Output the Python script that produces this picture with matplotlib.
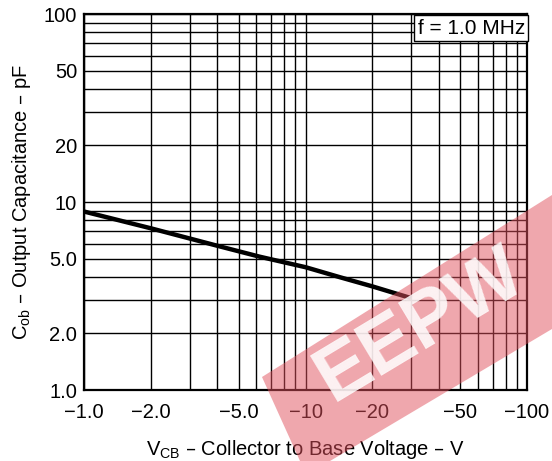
import matplotlib
matplotlib.use('Agg')
import matplotlib.pyplot as plt
from matplotlib.patches import Polygon
from matplotlib.ticker import FixedLocator, FixedFormatter, LogLocator, NullFormatter

plt.rcParams['font.family'] = ['Liberation Sans', 'DejaVu Sans']

# curve (|VCB| in volts, Cob in pF)
vcb = [1.0, 2.0, 4.0, 6.2, 10.0, 14.3, 20.0, 30.0]
cob = [8.9, 7.25, 5.85, 5.12, 4.5, 3.98, 3.56, 3.08]

x_ticks = [1, 2, 5, 10, 20, 50, 100]
x_labels = ['\u22121.0', '\u22122.0', '\u22125.0', '\u221210', '\u221220', '\u221250', '\u2212100']
y_ticks = [1, 2, 5, 10, 20, 50, 100]
y_labels = ['1.0', '2.0', '5.0', '10', '20', '50', '100']

W, H = 552, 461
fig = plt.figure(figsize=(W / 100, H / 100), dpi=100)
ax = fig.add_axes([84 / W, 1 - 390 / H, 443 / W, 376 / H])

ax.set_xscale('log')
ax.set_yscale('log')
ax.set_xlim(1, 100)
ax.set_ylim(1, 100)

ax.xaxis.set_major_locator(FixedLocator(x_ticks))
ax.xaxis.set_major_formatter(FixedFormatter(x_labels))
ax.yaxis.set_major_locator(FixedLocator(y_ticks))
ax.yaxis.set_major_formatter(FixedFormatter(y_labels))
ax.xaxis.set_minor_locator(LogLocator(base=10, subs=range(2, 10)))
ax.yaxis.set_minor_locator(LogLocator(base=10, subs=range(2, 10)))
ax.xaxis.set_minor_formatter(NullFormatter())
ax.yaxis.set_minor_formatter(NullFormatter())

ax.grid(which='both', color='black', linewidth=1.0)
ax.tick_params(which='both', length=0, labelsize=14.5)
ax.tick_params(axis='x', pad=9)
ax.tick_params(axis='y', pad=5)
for s in ax.spines.values():
    s.set_linewidth(1.6)

ax.plot(vcb, cob, color='black', linewidth=3.2, solid_capstyle='butt', zorder=3)

ax.text(0.995, 0.988, 'f = 1.0 MHz', transform=ax.transAxes, ha='right', va='top',
        fontsize=15, zorder=4,
        bbox=dict(boxstyle='square,pad=0.15', facecolor='white', edgecolor='black', linewidth=1.0))

ax.set_xlabel('V$_{\\mathregular{CB}}$ \u2013 Collector to Base Voltage \u2013 V',
              fontsize=14.5, labelpad=12)
ax.set_ylabel('C$_{\\mathregular{ob}}$ \u2013 Output Capacitance \u2013 pF',
              fontsize=14.5, labelpad=8)

# red EEPW watermark band across the lower right (figure pixels, y from top)
band = [(262, 377), (552, 195), (552, 329), (330, 461), (300, 461)]
fig.patches.append(Polygon([(x / W, 1 - y / H) for x, y in band], closed=True,
                           transform=fig.transFigure, facecolor='#e0505c',
                           edgecolor='none', alpha=0.5, zorder=10))
fig.text(420 / W, 1 - 325 / H, 'EEPW', rotation=31, ha='center', va='center',
         fontsize=56, fontweight='bold', color='white', alpha=0.85, zorder=11)

fig.savefig('out.png', dpi=100)
